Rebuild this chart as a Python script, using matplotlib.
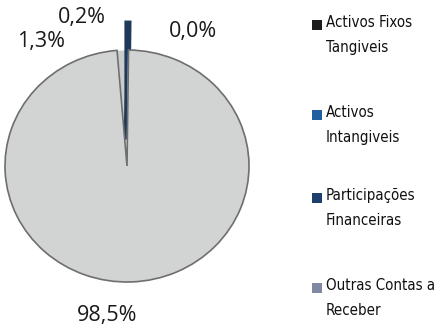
import matplotlib.pyplot as plt
from matplotlib.patches import Rectangle

categorias = ["Activos Fixos\nTangiveis", "Activos\nIntangiveis",
              "Participações\nFinanceiras", "Outras Contas a\nReceber"]
valores = [1.3, 0.2, 0.0, 98.5]
rotulos = ["1,3%", "0,2%", "0,0%", "98,5%"]
cores_fatia = ["#cbcdcd", "#1d3a5c", "#1d3f6e", "#d2d4d4"]
cores_legenda = ["#1c1c1c", "#1f5fa0", "#1d3f6e", "#7f87a3"]

W, H = 440, 329
fig = plt.figure(figsize=(W / 100, H / 100), dpi=100)

# pie centred at (127, 166) px, radii 122 x 116 px
cx, cy, rx, ry, half = 127, 166, 122, 116, 160
ax = fig.add_axes([(cx - half) / W, (H - cy - half) / H, 2 * half / W, 2 * half / H])

inicio = 90 + valores[0] / 100 * 360
fatias, _ = ax.pie(valores, colors=cores_fatia, startangle=inicio, counterclock=False,
                   explode=[0, 0.23, 0, 0], radius=1.0,
                   wedgeprops=dict(edgecolor="#f4f4f4", linewidth=0.8))
fatias[1].set_edgecolor("#1d3a5c")
fatias[1].set_linewidth(4)
fatias[3].set_edgecolor("#6e6e6e")
fatias[3].set_linewidth(1.2)
ax.set_aspect("auto")
ax.set_xlim(-half / rx, half / rx)
ax.set_ylim(-half / ry, half / ry)
ax.axis("off")

# data labels
pos_rotulos = [(41, 41), (82, 18), (193, 32), (107, 315)]
for txt, (x, y) in zip(rotulos, pos_rotulos):
    fig.text(x / W, 1 - y / H, txt, ha="center", va="center", fontsize=15.5,
             family=["Open Sans", "DejaVu Sans"], color="#1a1a1a")

# legend
leg_y = [25, 115, 198, 288]
for nome, cor, y in zip(categorias, cores_legenda, leg_y):
    fig.patches.append(Rectangle((312 / W, 1 - (y + 5) / H), 10 / W, 10 / H,
                                 transform=fig.transFigure, facecolor=cor,
                                 edgecolor="none"))
    fig.text(326 / W, 1 - (y - 10) / H, nome, ha="left", va="top", fontsize=10.8,
             family="DejaVu Sans", fontstretch="condensed",
             linespacing=1.85, color="#111111")

fig.savefig("out.png", dpi=100, facecolor="white")
